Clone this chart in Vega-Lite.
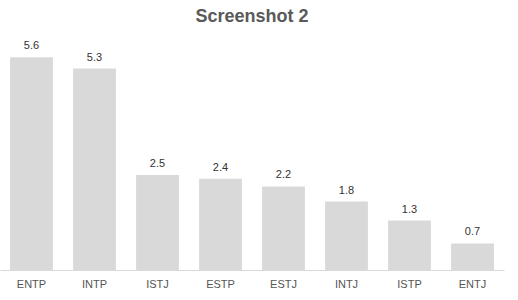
{
  "$schema": "https://vega.github.io/schema/vega-lite/v6.json",
  "width": 504,
  "height": 228,
  "autosize": {"type": "none"},
  "padding": {"left": 0, "top": 42, "right": 14, "bottom": 30},
  "background": "white",
  "title": {"text": "Screenshot 2", "fontSize": 18, "font": "Liberation Sans", "fontWeight": "bold", "color": "#595959", "anchor": "middle", "offset": 14},
  "data": {"values": [
    {"type": "ENTP", "value": 5.6},
    {"type": "INTP", "value": 5.3},
    {"type": "ISTJ", "value": 2.5},
    {"type": "ESTP", "value": 2.4},
    {"type": "ESTJ", "value": 2.2},
    {"type": "INTJ", "value": 1.8},
    {"type": "ISTP", "value": 1.3},
    {"type": "ENTJ", "value": 0.7}
  ]},
  "encoding": {
    "x": {"field": "type", "type": "nominal", "sort": null,
      "scale": {"paddingInner": 0.32, "paddingOuter": 0.16},
      "axis": {"title": null, "labelAngle": 0, "ticks": false, "domainColor": "#d9d9d9", "labelColor": "#555", "labelFont": "Liberation Sans", "labelFontSize": 11, "labelPadding": 8}},
    "y": {"field": "value", "type": "quantitative", "scale": {"domain": [0, 6]}, "axis": null}
  },
  "layer": [
    {"mark": {"type": "bar", "color": "#d9d9d9"}},
    {"mark": {"type": "text", "dy": -11, "font": "Liberation Sans", "fontSize": 11, "color": "#333"},
     "encoding": {"text": {"field": "value", "type": "quantitative", "format": ".1f"}}}
  ],
  "config": {"view": {"stroke": null}}
}
